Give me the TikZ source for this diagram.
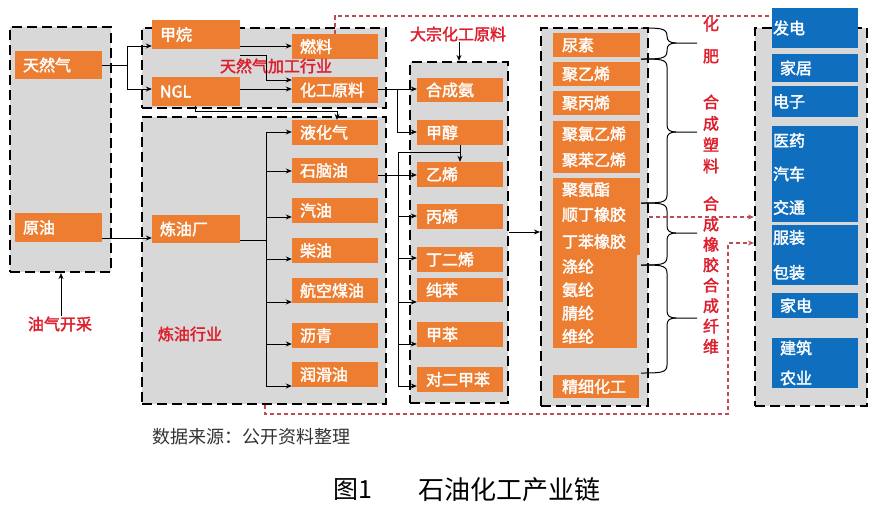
\documentclass[tikz,border=0pt]{standalone}
\usepackage{fontspec}
\setmainfont{Noto Sans CJK SC}[AutoFakeBold=2]
\usetikzlibrary{arrows.meta}
\definecolor{org}{RGB}{237,125,49}
\definecolor{blu}{RGB}{16,110,190}
\definecolor{gfill}{RGB}{216,216,216}
\definecolor{rtxt}{RGB}{222,30,45}
\definecolor{rdl}{RGB}{190,75,80}
\newcommand\nbox[8]{%
  \pgfmathsetmacro\nbW{#6-#4}\pgfmathsetmacro\nbH{#7-#5}\pgfmathsetmacro\nbT{#6-#4-2*#2}%
  \node[#1, inner xsep=#2pt, minimum width=\nbW pt, minimum height=\nbH pt, text width=\nbT pt] (#3) at ({(#4+#6)/2},{(#5+#7)/2}) {#8};}
\newcommand\grayframe[5]{%
  \pgfmathsetmacro\nbW{#4-#2}\pgfmathsetmacro\nbH{#5-#3}%
  \node[dbox, minimum width=\nbW pt, minimum height=\nbH pt] (#1) at ({(#2+#4)/2},{(#3+#5)/2}) {};}
\newcommand\bracejoin[3]{%
  \draw[brc] (641,#1) .. controls (660,#1) and (667,#1) .. (667,#1+8) -- (667,#3-7) .. controls (667,#3-2) and (670,#3) .. (676,#3) -- (697,#3);
  \draw[brc] (641,#2) .. controls (660,#2) and (667,#2) .. (667,#2-8) -- (667,#3+7) .. controls (667,#3+2) and (670,#3) .. (676,#3);}
\tikzset{
  dbox/.style={draw=black, fill=gfill, line width=2.2pt, dash pattern=on 10pt off 5pt, inner sep=0pt},
  obox/.style={fill=org, text=white, inner ysep=0pt, align=left, font=\fontsize{16}{18}\selectfont\bfseries},
  bbox/.style={fill=blu, text=white, inner ysep=0pt, align=left, font=\fontsize{16}{18}\selectfont\bfseries},
  rlab/.style={text=rtxt, font=\fontsize{16}{18}\selectfont\bfseries, inner sep=0pt},
  ln/.style={line width=0.9pt},
  arr/.style={line width=0.9pt, -{Stealth[length=6pt,width=5pt]}},
  rdash/.style={draw=rdl, line width=1.2pt, dash pattern=on 4pt off 3pt},
  rarr/.style={rdash, -{Stealth[length=6pt,width=5pt]}},
  brc/.style={line width=1pt},
}
\begin{document}
\begin{tikzpicture}[x=1pt,y=-1pt]
\fill[white] (0,0) rectangle (876,509);
\useasboundingbox (0,0) rectangle (876,509);
% frames
\grayframe{box1}{10}{27}{111}{272}
\grayframe{box2}{142}{28}{386}{108}
\grayframe{box3}{142}{117}{386}{404}
\grayframe{box4}{410}{62}{508}{403}
\grayframe{box5}{541}{28}{648}{406}
\grayframe{box6}{755}{28}{867}{406}
% column 1
\nbox{obox}{8}{tianranqi}{15}{51}{102}{79}{天然气}
\nbox{obox}{8}{yuanyou}{15}{213}{102}{242}{原油}
% column 2
\nbox{obox}{8}{jiawan}{152}{20}{240}{49}{甲烷}
\nbox{obox}{8}{ngl}{152}{77}{240}{106}{NGL}
\nbox{obox}{8}{ranliao}{292}{34}{378}{59}{燃料}
\nbox{obox}{8}{hgyl}{292}{77}{378}{103}{化工原料}
\nbox{obox}{8}{lyc}{152}{215}{240}{243}{炼油厂}
\nbox{obox}{8}{yhq}{292}{120}{378}{145}{液化气}
\nbox{obox}{8}{sny}{292}{158}{378}{183}{石脑油}
\nbox{obox}{8}{qy}{292}{198}{378}{223}{汽油}
\nbox{obox}{8}{cy}{292}{238}{378}{263}{柴油}
\nbox{obox}{8}{hkmy}{292}{278}{378}{303}{航空煤油}
\nbox{obox}{8}{lq}{292}{323}{378}{348}{沥青}
\nbox{obox}{8}{rhy}{292}{362}{378}{387}{润滑油}
% column 3
\nbox{obox}{9}{hca}{417}{78}{503}{102}{合成氨}
\nbox{obox}{9}{jc}{417}{120}{503}{145}{甲醇}
\nbox{obox}{9}{yx}{417}{162}{503}{187}{乙烯}
\nbox{obox}{9}{bx}{417}{204}{503}{229}{丙烯}
\nbox{obox}{9}{ddx}{417}{247}{503}{272}{丁二烯}
\nbox{obox}{9}{cb}{417}{278}{503}{302}{纯苯}
\nbox{obox}{9}{jb}{417}{322}{503}{347}{甲苯}
\nbox{obox}{9}{dejb}{417}{367}{503}{392}{对二甲苯}
% column 4
\nbox{obox}{9}{ns}{553}{33}{640}{57}{尿素}
\nbox{obox}{9}{jyx}{553}{62}{640}{86}{聚乙烯}
\nbox{obox}{9}{jbx}{553}{91}{640}{115}{聚丙烯}
\nbox{obox,font=\fontsize{16}{26}\selectfont\bfseries}{9}{jlyx}{553}{121}{640}{173}{聚氯乙烯\\聚苯乙烯}
\nbox{obox}{9}{jaz}{553}{178}{640}{201}{聚氨酯}
\nbox{obox,font=\fontsize{16}{27}\selectfont\bfseries}{9}{xj}{553}{201}{640}{255}{顺丁橡胶\\丁苯橡胶}
\nbox{obox,font=\fontsize{16}{23.3}\selectfont\bfseries}{9}{hx}{553}{255}{637}{348}{涤纶\\氨纶\\腈纶\\维纶}
\nbox{obox}{9}{jxhg}{553}{375}{639}{398}{精细化工}
% column 5
\nbox{bbox}{1}{fd}{772}{8}{858}{48}{发电}
\nbox{bbox}{1}{jj}{772}{54}{858}{82}{\hspace*{7pt}家居}
\nbox{bbox}{1}{dz}{772}{86}{858}{117}{电子}
\nbox{bbox,font=\fontsize{16}{33.5}\selectfont\bfseries}{1}{yy}{772}{126}{858}{222}{医药\\汽车\\交通}
\nbox{bbox,font=\fontsize{16}{35}\selectfont\bfseries}{1}{fz}{772}{225}{858}{285}{服装\\包装}
\nbox{bbox}{1}{jd}{772}{293}{858}{318}{\hspace*{7pt}家电}
\nbox{bbox,font=\fontsize{16}{30}\selectfont\bfseries}{1}{jz}{772}{338}{858}{388}{\hspace*{7pt}建筑\\\hspace*{7pt}农业}
% red labels
\node[rlab] (trqjg) at (276,66) {天然气加工行业};
\node[rlab] (lyhy) at (190,334) {炼油行业};
\node[rlab] (dzhg) at (458,34) {大宗化工原料};
\node[rlab] (yqkc) at (60,324) {油气开采};
\node[rlab, align=center, font=\fontsize{16}{32}\selectfont\bfseries] (hf) at (711,40) {化\\肥};
\node[rlab, align=center, font=\fontsize{16}{21.3}\selectfont\bfseries] (hcsl) at (711,134) {合\\成\\塑\\料};
\node[rlab, align=center, font=\fontsize{16}{20.4}\selectfont\bfseries] (hcxj) at (711,275) {合\\成\\橡\\胶\\合\\成\\纤\\维};
% connectors
\draw[arr] (tianranqi.east) -- (127,65) |- (jiawan.west |- 0,46);
\draw[arr] (127,65) |- (ngl.west |- 0,89);
\draw[arr] (jiawan.east |- 0,46) -- (ranliao.west |- 0,46);
\draw[arr] (jiawan.east |- 0,55) -- (266,55) |- (hgyl.west |- 0,80);
\draw[arr] (ngl.east |- 0,89) -- (hgyl.west |- 0,89);
\draw[arr] (ngl.south -| 195,0) -- (195,111) -| (yhq.north -| 337,0);
\draw[arr] (yuanyou.east |- 0,238) -- (lyc.west |- 0,238);
\draw[ln] (lyc.east |- 0,240) -- (266,240);
\foreach \nd/\yy in {yhq/132, sny/171, qy/217, cy/259, hkmy/302, lq/344, rhy/386}
  \draw[arr] (266,240) |- (\nd.west |- 0,\yy);
\draw[arr] (hgyl.east |- 0,89) -- (hca.west |- 0,89);
\draw[arr] (397,89) |- (jc.west |- 0,132);
\draw[arr] (sny.east |- 0,175) -- (yx.west |- 0,175);
\draw[ln] (398,175) -- (398,152) -- (460,152);
\draw[arr] (jc.south -| 460,0) -- (yx.north -| 460,0);
\foreach \nd/\yy in {bx/216, ddx/258, cb/302, jb/344, dejb/386}
  \draw[arr] (398,175) |- (\nd.west |- 0,\yy);
\draw[arr] (dzhg.south -| 459,0) -- (box4.north -| 459,0);
\draw[arr] (box4.east |- 0,232) -- (box5.west |- 0,232);
\draw[arr] (yqkc.north -| 61,0) -- (box1.south -| 61,0);
% braces
\bracejoin{28}{59}{43}
\bracejoin{59}{203}{132}
\bracejoin{203}{265}{233}
\bracejoin{265}{373}{318}
% red dashed
\draw[rdash] (ranliao.north -| 335,0) -- (335,16) -- (fd.west |- 0,16);
\draw[rarr] (box5.east |- 0,217) -- (box6.west |- 0,217);
\draw[rarr] (box3.south -| 265,0) -- (265,414) -| (728,243) -- (box6.west |- 0,243);
% captions
\node[anchor=west, inner sep=0pt, font=\fontsize{18}{18}\selectfont, text=black!80] (src) at (152,437) {数据来源：公开资料整理};
\node[font=\fontsize{25}{25}\selectfont] (fig) at (353,490) {图1};
\node[font=\fontsize{26}{26}\selectfont] (title) at (509,490) {石油化工产业链};
\end{tikzpicture}
\end{document}
